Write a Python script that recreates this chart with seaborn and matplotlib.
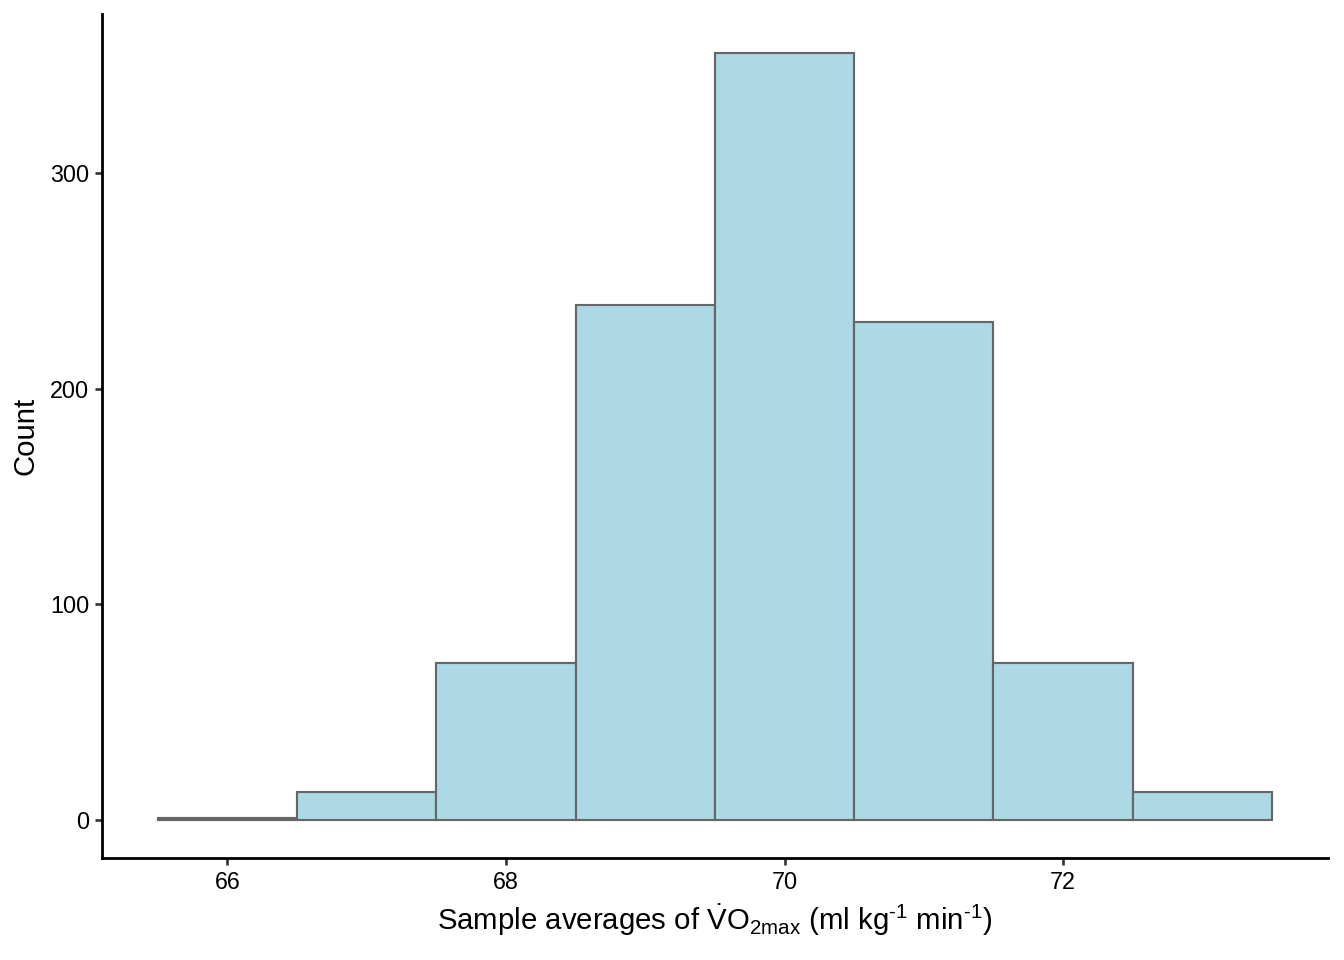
import matplotlib
matplotlib.use("Agg")
import matplotlib.pyplot as plt
import seaborn as sns
import pandas as pd

# bin centres and counts (bin width 1)
centres = [66, 67, 68, 69, 70, 71, 72, 73]
counts = [1, 13, 73, 239, 356, 231, 73, 13]
bin_edges = [65.5, 66.5, 67.5, 68.5, 69.5, 70.5, 71.5, 72.5, 73.5]
x_ticks = [66, 68, 70, 72]
y_ticks = [0, 100, 200, 300]

df = pd.DataFrame({"avg": centres, "n": counts})

sns.set_style("ticks")
plt.rcParams["font.family"] = ["Liberation Sans", "DejaVu Sans"]
plt.rcParams["mathtext.fontset"] = "custom"
plt.rcParams["mathtext.rm"] = "Liberation Sans"
plt.rcParams["mathtext.it"] = "Liberation Sans:italic"

fig = plt.figure(figsize=(14, 10), dpi=96)
ax = fig.add_axes([0.0759, 0.106, 0.912, 0.879])

sns.histplot(data=df, x="avg", weights="n", bins=bin_edges, ax=ax,
             color="#ADD8E6", edgecolor="#666666", linewidth=1.6, alpha=1)

ax.set_xlim(65.1, 73.9)
ax.set_ylim(-17.8, 373.8)
ax.set_xticks(x_ticks)
ax.set_yticks(y_ticks)
ax.tick_params(labelsize=17.5, length=5.5, width=2, color="#333333",
               labelcolor="black", pad=4)
for s in ["top", "right"]:
    ax.spines[s].set_visible(False)
for s in ["left", "bottom"]:
    ax.spines[s].set_linewidth(2.1)
    ax.spines[s].set_color("black")

hy = "\u2010"
xlab = (r"Sample averages of $\dot{\mathrm{V}}\mathrm{O}_{2\mathrm{max}}$ (ml kg$^{\mathrm{" + hy +
        r"}1}$ min$^{\mathrm{" + hy + r"}1}$)")
ax.set_ylabel("Count", fontsize=22, labelpad=8, color="black")
ax.set_xlabel(xlab, fontsize=22, labelpad=6, color="black")

fig.savefig("out.png", dpi=96)
